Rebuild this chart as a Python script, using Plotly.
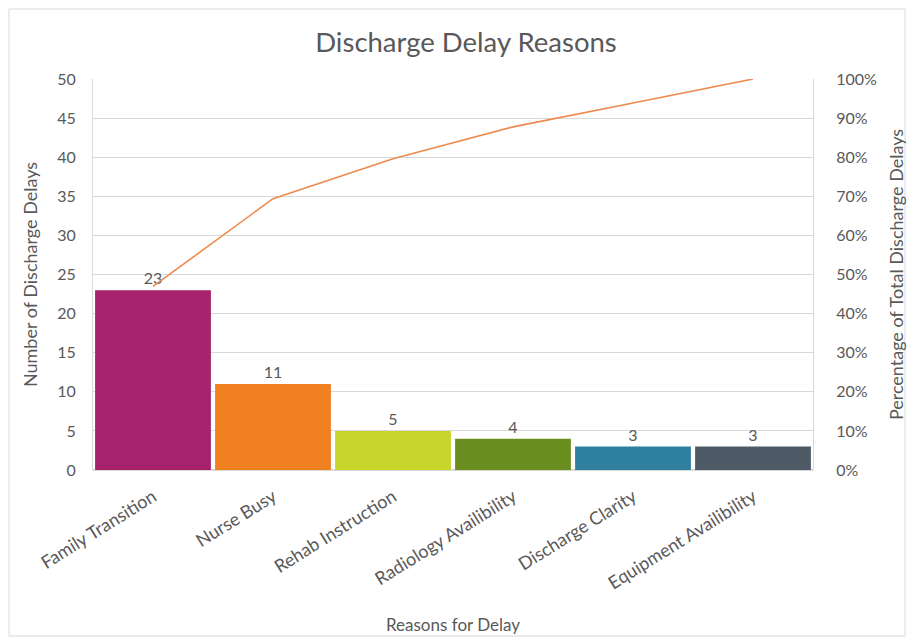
import numpy as np
import plotly.graph_objects as go

categories = ["Family Transition", "Nurse Busy", "Rehab Instruction",
              "Radiology Availibility", "Discharge Clarity", "Equipment Availibility"]
counts = [23, 11, 5, 4, 3, 3]
bar_colors = ["#A6226C", "#F07F1F", "#C7D52B", "#6A8E1F", "#2F7F9E", "#4E5A65"]
left_ticks = [0, 5, 10, 15, 20, 25, 30, 35, 40, 45, 50]
right_ticks = [0, 0.1, 0.2, 0.3, 0.4, 0.5, 0.6, 0.7, 0.8, 0.9, 1.0]

cum_pct = np.cumsum(counts) / np.sum(counts)

FONT = "Lato, 'Open Sans', sans-serif"
GRAY = "#595959"
GRID = "#D9D9D9"

fig = go.Figure()
fig.add_trace(go.Bar(
    x=categories, y=counts, marker=dict(color=bar_colors, line=dict(width=0)),
    text=[str(c) for c in counts], textposition="outside",
    textfont=dict(color=GRAY, size=16, family=FONT), cliponaxis=False,
    showlegend=False,
))
fig.add_trace(go.Scatter(
    x=categories, y=cum_pct, yaxis="y2", mode="lines",
    line=dict(color="#EE8A4E", width=1.6), showlegend=False,
))

fig.update_layout(
    width=907, height=639,
    margin=dict(l=93, r=94, t=79, b=169),
    paper_bgcolor="white", plot_bgcolor="white",
    bargap=0.035,
    font=dict(family=FONT, color=GRAY, size=16),
    title=dict(text="Discharge Delay Reasons", x=466 / 907, xanchor="center",
               y=1 - 42 / 639, yanchor="middle",
               font=dict(size=27.5, color=GRAY, family=FONT)),
    xaxis=dict(tickangle=-32, showgrid=False, showline=False, ticks="",
               tickfont=dict(size=18, color=GRAY), ticklabelstandoff=12,
               automargin=False,
               title=dict(text="Reasons for Delay", font=dict(size=17, color=GRAY), standoff=26)),
    yaxis=dict(range=[0, 50], tickvals=left_ticks, showgrid=True, gridcolor=GRID,
               showline=True, linecolor=GRID, zeroline=True, zerolinecolor=GRID,
               tickfont=dict(size=16, color=GRAY), ticks="", ticklabelstandoff=13,
               automargin=False,
               title=dict(text="Number of Discharge Delays", font=dict(size=18, color=GRAY), standoff=14)),
    yaxis2=dict(range=[0, 1], tickvals=right_ticks, tickformat=".0%", overlaying="y",
                side="right", showgrid=False, showline=True, linecolor=GRID, zeroline=False,
                tickfont=dict(size=16, color=GRAY), ticks="", ticklabelstandoff=19,
                automargin=False,
                title=dict(text="Percentage of Total Discharge Delays", font=dict(size=18, color=GRAY), standoff=14)),
)

# outer chart border
fig.add_shape(type="rect", xref="paper", yref="paper",
              x0=(9 - 93) / 720, x1=(905 - 93) / 720,
              y0=(470 - 636) / 391, y1=(470 - 9) / 391,
              line=dict(color="#D9D9D9", width=1), layer="below")

fig.write_html("out.html")
